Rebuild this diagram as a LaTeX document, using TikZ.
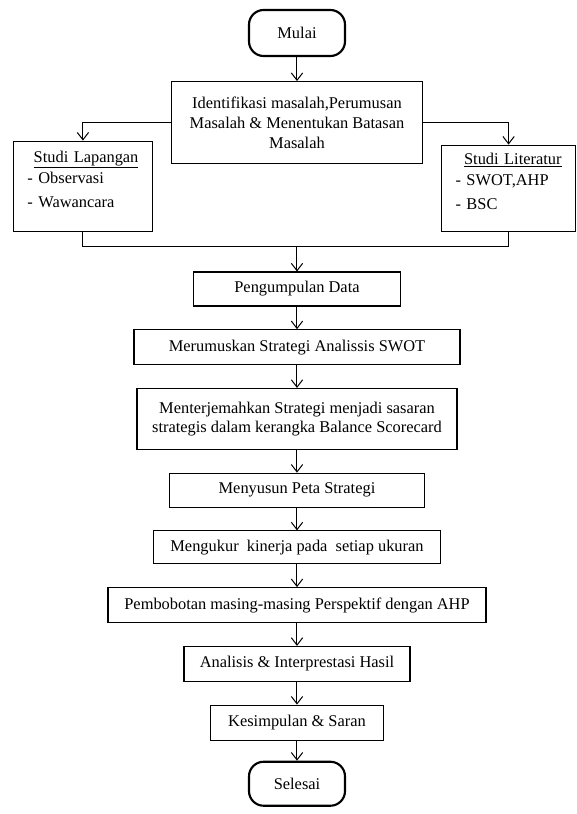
\documentclass[tikz,border=0pt]{standalone}
\usepackage{fontspec}
\setmainfont{Liberation Serif}
\usepackage{tikz}
\usetikzlibrary{arrows.meta, positioning, calc}

\begin{document}
\begin{tikzpicture}[
    node distance=17pt,
    block/.style={rectangle, draw=black, line width=0.8pt, align=center, inner sep=2pt, minimum height=25.5pt, font=\fontsize{12.3}{14.8}\selectfont},
    startstop/.style={rectangle, draw=black, line width=1.6pt, rounded corners=11pt, minimum width=72pt, minimum height=34.5pt, font=\fontsize{12.3}{14.8}\selectfont},
    side/.style={rectangle, draw=black, line width=0.8pt, align=left, inner xsep=10.5pt, inner ysep=2pt, font=\fontsize{12.3}{14.8}\selectfont},
    line/.style={draw=black, line width=0.75pt, -{Straight Barb[length=5.5pt, width=8.5pt]}},
    wire/.style={draw=black, line width=0.75pt}
]
    \useasboundingbox (-222.75pt,24.75pt) rectangle (209.25pt,-585.75pt);

    % Nodes
    \node [startstop] (mulai) {Mulai};
    \node [block, minimum width=188.25pt, minimum height=61.5pt, below=18pt of mulai] (ident) {Identifikasi masalah,Perumusan\\Masalah \& Menentukan Batasan\\Masalah};

    % Side studies
    \node [side, text width=83.25pt, minimum height=67.5pt, below left=13.5pt and 13.5pt of ident.west] (lapangan) {\hspace*{\fill}\underline{Studi Lapangan}\hspace*{\fill}\\[1pt]- Observasi\\[3pt]- Wawancara\\[-4pt]\mbox{}};
    \node [side, text width=79.5pt, minimum height=64.5pt, below right=16.5pt and 13.5pt of ident.east] (literatur) {\hspace*{\fill}\underline{Studi Literatur}\hspace*{\fill}\\[1pt]- SWOT,AHP\\[3pt]- BSC\\[-4pt]\mbox{}};
    \coordinate [below=11.25pt of lapangan.south] (join);

    \node [block, minimum width=155.25pt, below=80.5pt of ident] (data) {Pengumpulan Data};
    \node [block, minimum width=244.5pt, minimum height=26.25pt, below=of data] (swot) {Merumuskan Strategi Analissis SWOT};
    \node [block, minimum width=240pt, minimum height=45.75pt, below=of swot] (bsc) {Menterjemahkan Strategi menjadi sasaran\\strategis dalam kerangka Balance Scorecard};
    \node [block, minimum width=191.25pt, below=of bsc] (peta) {Menyusun Peta Strategi};
    \node [block, minimum width=215.25pt, minimum height=24.75pt, below=of peta] (ukur) {Mengukur\ \ kinerja pada\ \ setiap ukuran};
    \node [block, minimum width=283.5pt, minimum height=26.25pt, below=of ukur] (ahp) {Pembobotan masing-masing Perspektif dengan AHP};
    \node [block, minimum width=169.5pt, minimum height=26.25pt, below=of ahp] (hasil) {Analisis \& Interprestasi Hasil};
    \node [block, minimum width=129.75pt, minimum height=26.25pt, below=of hasil] (saran) {Kesimpulan \& Saran};
    \node [startstop, minimum height=33pt, below=15pt of saran] (selesai) {Selesai};

    % Paths
    \path [line] (mulai) -- (ident);
    \path [line] (ident.west) -| (lapangan.north);
    \path [line] (ident.east) -| (literatur.north);
    \path [wire] (lapangan.south) -- (join) -| (literatur.south);
    \path [line] (join -| data.north) -- (data.north);
    \path [line] (data) -- (swot);
    \path [line] (swot) -- (bsc);
    \path [line] (bsc) -- (peta);
    \path [line] (peta) -- (ukur);
    \path [line] (ukur) -- (ahp);
    \path [line] (ahp) -- (hasil);
    \path [line] (hasil) -- (saran);
    \path [line] (saran) -- (selesai);

\end{tikzpicture}
\end{document}
